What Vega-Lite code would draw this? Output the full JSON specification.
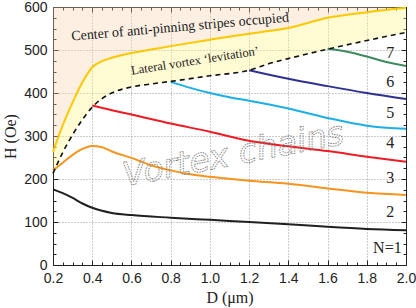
{
  "$schema": "https://vega.github.io/schema/vega-lite/v6.json",
  "width": 353,
  "height": 258,
  "autosize": {"type": "none"},
  "padding": {"left": 53, "top": 7, "right": 10, "bottom": 43},
  "config": {
    "view": {"stroke": null},
    "axis": {
      "labelFont": "Liberation Sans",
      "labelFontSize": 14,
      "labelColor": "#222",
      "domainColor": "#222",
      "tickColor": "#222",
      "titleFont": "Liberation Serif",
      "titleFontSize": 16,
      "titleFontWeight": "normal",
      "titleColor": "#222",
      "gridColor": "#999999",
      "gridDash": [1, 2],
      "gridWidth": 1
    }
  },
  "datasets": {
    "bound": [
      {"D": 0.2, "top": 263, "dash": 213},
      {"D": 0.25, "top": 325, "dash": 262},
      {"D": 0.3, "top": 378, "dash": 303},
      {"D": 0.35, "top": 425, "dash": 338},
      {"D": 0.4, "top": 460, "dash": 367},
      {"D": 0.45, "top": 474, "dash": 387},
      {"D": 0.5, "top": 482, "dash": 400},
      {"D": 0.6, "top": 493, "dash": 414},
      {"D": 0.7, "top": 501, "dash": 421},
      {"D": 0.8, "top": 509, "dash": 427},
      {"D": 1.0, "top": 524, "dash": 440},
      {"D": 1.2, "top": 538, "dash": 453},
      {"D": 1.3, "top": 544, "dash": 468},
      {"D": 1.4, "top": 551, "dash": 480},
      {"D": 1.6, "top": 575, "dash": 502},
      {"D": 1.8, "top": 588, "dash": 522},
      {"D": 2.0, "top": 598, "dash": 541}
    ],
    "curves": [
      {"N": "1", "D": 0.2, "H": 176}, {"N": "1", "D": 0.25, "H": 167}, {"N": "1", "D": 0.3, "H": 156},
      {"N": "1", "D": 0.35, "H": 143}, {"N": "1", "D": 0.4, "H": 133}, {"N": "1", "D": 0.45, "H": 126},
      {"N": "1", "D": 0.5, "H": 121}, {"N": "1", "D": 0.6, "H": 116}, {"N": "1", "D": 0.8, "H": 110},
      {"N": "1", "D": 1.0, "H": 105}, {"N": "1", "D": 1.2, "H": 100}, {"N": "1", "D": 1.4, "H": 95},
      {"N": "1", "D": 1.6, "H": 89}, {"N": "1", "D": 1.8, "H": 84}, {"N": "1", "D": 2.0, "H": 81},
      {"N": "2", "D": 0.2, "H": 220}, {"N": "2", "D": 0.25, "H": 238}, {"N": "2", "D": 0.3, "H": 256},
      {"N": "2", "D": 0.35, "H": 270}, {"N": "2", "D": 0.4, "H": 277}, {"N": "2", "D": 0.45, "H": 274},
      {"N": "2", "D": 0.5, "H": 264}, {"N": "2", "D": 0.6, "H": 249}, {"N": "2", "D": 0.7, "H": 232},
      {"N": "2", "D": 0.8, "H": 220}, {"N": "2", "D": 0.9, "H": 211}, {"N": "2", "D": 1.0, "H": 205},
      {"N": "2", "D": 1.2, "H": 196}, {"N": "2", "D": 1.4, "H": 189}, {"N": "2", "D": 1.6, "H": 178},
      {"N": "2", "D": 1.8, "H": 168}, {"N": "2", "D": 2.0, "H": 163},
      {"N": "3", "D": 0.4, "H": 371}, {"N": "3", "D": 0.5, "H": 360}, {"N": "3", "D": 0.6, "H": 350},
      {"N": "3", "D": 0.8, "H": 329}, {"N": "3", "D": 1.0, "H": 310}, {"N": "3", "D": 1.2, "H": 289},
      {"N": "3", "D": 1.4, "H": 276}, {"N": "3", "D": 1.6, "H": 265}, {"N": "3", "D": 1.8, "H": 252},
      {"N": "3", "D": 2.0, "H": 240},
      {"N": "4", "D": 0.8, "H": 426}, {"N": "4", "D": 0.9, "H": 412}, {"N": "4", "D": 1.0, "H": 400},
      {"N": "4", "D": 1.1, "H": 390}, {"N": "4", "D": 1.2, "H": 382}, {"N": "4", "D": 1.4, "H": 364},
      {"N": "4", "D": 1.6, "H": 342}, {"N": "4", "D": 1.8, "H": 324}, {"N": "4", "D": 1.9, "H": 319},
      {"N": "4", "D": 2.0, "H": 317},
      {"N": "5", "D": 1.2, "H": 453}, {"N": "5", "D": 1.4, "H": 433}, {"N": "5", "D": 1.6, "H": 416},
      {"N": "5", "D": 1.8, "H": 400}, {"N": "5", "D": 2.0, "H": 386},
      {"N": "6", "D": 1.6, "H": 503}, {"N": "6", "D": 1.7, "H": 496}, {"N": "6", "D": 1.8, "H": 485},
      {"N": "6", "D": 1.9, "H": 472}, {"N": "6", "D": 2.0, "H": 463}
    ],
    "nlabels": [
      {"t": "7", "D": 1.92, "H": 493},
      {"t": "6", "D": 1.92, "H": 426},
      {"t": "5", "D": 1.92, "H": 353},
      {"t": "4", "D": 1.92, "H": 284},
      {"t": "3", "D": 1.92, "H": 202},
      {"t": "2", "D": 1.92, "H": 123},
      {"t": "N=1", "D": 1.905, "H": 40}
    ]
  },
  "resolve": {"axis": {"x": "independent", "y": "independent"}},
  "layer": [
    {
      "data": {"name": "bound"},
      "mark": {"type": "area", "color": "#f9d4ac", "opacity": 0.35},
      "encoding": {
        "x": {"field": "D", "type": "quantitative", "scale": {"domain": [0.2, 2.0], "nice": false, "zero": false},
          "axis": {"orient": "bottom", "title": "D (μm)", "values": [0.2, 0.4, 0.6, 0.8, 1.0, 1.2, 1.4, 1.6, 1.8, 2.0], "format": ".1f", "tickSize": -5, "labelPadding": 11, "grid": true, "titlePadding": 4, "labelFlush": false}},
        "y": {"field": "top", "type": "quantitative", "scale": {"domain": [0, 600], "nice": false},
          "axis": {"orient": "left", "title": "H (Oe)", "values": [0, 100, 200, 300, 400, 500, 600], "tickSize": -5, "labelPadding": 11, "grid": true, "titlePadding": 5, "labelFlush": false}},
        "y2": {"datum": 600}
      }
    },
    {
      "data": {"name": "bound"},
      "mark": {"type": "area", "color": "#fff47e", "opacity": 0.35},
      "encoding": {
        "x": {"field": "D", "type": "quantitative", "scale": {"domain": [0.2, 2.0], "nice": false, "zero": false},
          "axis": {"orient": "top", "title": null, "values": [0.2, 0.4, 0.6, 0.8, 1.0, 1.2, 1.4, 1.6, 1.8, 2.0], "tickSize": -5, "labels": false, "grid": false}},
        "y": {"field": "dash", "type": "quantitative", "scale": {"domain": [0, 600], "nice": false},
          "axis": {"orient": "right", "title": null, "values": [0, 100, 200, 300, 400, 500, 600], "tickSize": -5, "labels": false, "grid": false}},
        "y2": {"field": "top"}
      }
    },
    {
      "data": {"name": "curves"},
      "mark": {"type": "line", "strokeWidth": 2, "interpolate": "monotone"},
      "encoding": {
        "x": {"field": "D", "type": "quantitative", "scale": {"domain": [0.2, 2.0], "nice": false, "zero": false},
          "axis": {"orient": "bottom", "title": null, "values": [0.25, 0.3, 0.35, 0.45, 0.5, 0.55, 0.65, 0.7, 0.75, 0.85, 0.9, 0.95, 1.05, 1.1, 1.15, 1.25, 1.3, 1.35, 1.45, 1.5, 1.55, 1.65, 1.7, 1.75, 1.85, 1.9, 1.95], "tickSize": -3, "labels": false, "grid": false, "domain": false}},
        "y": {"field": "H", "type": "quantitative", "scale": {"domain": [0, 600], "nice": false},
          "axis": {"orient": "left", "title": null, "values": [25, 50, 75, 125, 150, 175, 225, 250, 275, 325, 350, 375, 425, 450, 475, 525, 550, 575], "tickSize": -3, "labels": false, "grid": false, "domain": false}},
        "color": {"field": "N", "type": "nominal", "legend": null,
          "scale": {"domain": ["1", "2", "3", "4", "5", "6"], "range": ["#231f20", "#f7941d", "#ed1c24", "#1cb0e6", "#2e3192", "#3d8a5f"]}},
        "detail": {"field": "N"}
      }
    },
    {
      "data": {"name": "bound"},
      "mark": {"type": "line", "strokeWidth": 2, "color": "#fcc800", "interpolate": "monotone"},
      "encoding": {
        "x": {"field": "D", "type": "quantitative", "scale": {"domain": [0.2, 2.0], "nice": false, "zero": false},
          "axis": {"orient": "top", "title": null, "values": [0.25, 0.3, 0.35, 0.45, 0.5, 0.55, 0.65, 0.7, 0.75, 0.85, 0.9, 0.95, 1.05, 1.1, 1.15, 1.25, 1.3, 1.35, 1.45, 1.5, 1.55, 1.65, 1.7, 1.75, 1.85, 1.9, 1.95], "tickSize": -3, "labels": false, "grid": false, "domain": false}},
        "y": {"field": "top", "type": "quantitative", "scale": {"domain": [0, 600], "nice": false},
          "axis": {"orient": "right", "title": null, "values": [25, 50, 75, 125, 150, 175, 225, 250, 275, 325, 350, 375, 425, 450, 475, 525, 550, 575], "tickSize": -3, "labels": false, "grid": false, "domain": false}}
      }
    },
    {
      "data": {"name": "bound"},
      "mark": {"type": "line", "strokeWidth": 1.6, "color": "#111", "strokeDash": [5, 4], "interpolate": "monotone"},
      "encoding": {
        "x": {"field": "D", "type": "quantitative", "axis": null},
        "y": {"field": "dash", "type": "quantitative", "axis": null}
      }
    },
    {
      "data": {"name": "nlabels"},
      "mark": {"type": "text", "font": "Liberation Serif", "fontSize": 16, "color": "#222", "align": "center", "baseline": "middle"},
      "encoding": {
        "x": {"field": "D", "type": "quantitative", "axis": null},
        "y": {"field": "H", "type": "quantitative", "axis": null},
        "text": {"field": "t"}
      }
    },
    {
      "data": {"values": [{"t": "Center of anti-pinning stripes occupied", "D": 0.85, "H": 544}]},
      "mark": {"type": "text", "font": "Liberation Serif", "fontSize": 14, "color": "#222", "align": "center", "baseline": "alphabetic", "angle": -5},
      "encoding": {
        "x": {"field": "D", "type": "quantitative", "axis": null},
        "y": {"field": "H", "type": "quantitative", "axis": null},
        "text": {"field": "t"}
      }
    },
    {
      "data": {"values": [{"t": "Lateral vortex ‘levitation’", "D": 0.927, "H": 466}]},
      "mark": {"type": "text", "font": "Liberation Serif", "fontSize": 12.5, "color": "#222", "align": "center", "baseline": "alphabetic", "angle": -9},
      "encoding": {
        "x": {"field": "D", "type": "quantitative", "axis": null},
        "y": {"field": "H", "type": "quantitative", "axis": null},
        "text": {"field": "t"}
      }
    },
    {
      "data": {"values": [{"t": "Vortex chains", "D": 1.13, "H": 233}]},
      "mark": {"type": "text", "font": "DejaVu Sans", "fontStyle": "italic", "fontSize": 33, "fill": "transparent", "stroke": "#808080", "strokeWidth": 0.9, "strokeDash": [1.5, 1], "align": "center", "baseline": "alphabetic", "angle": -11},
      "encoding": {
        "x": {"field": "D", "type": "quantitative", "axis": null},
        "y": {"field": "H", "type": "quantitative", "axis": null},
        "text": {"field": "t"}
      }
    }
  ]
}
